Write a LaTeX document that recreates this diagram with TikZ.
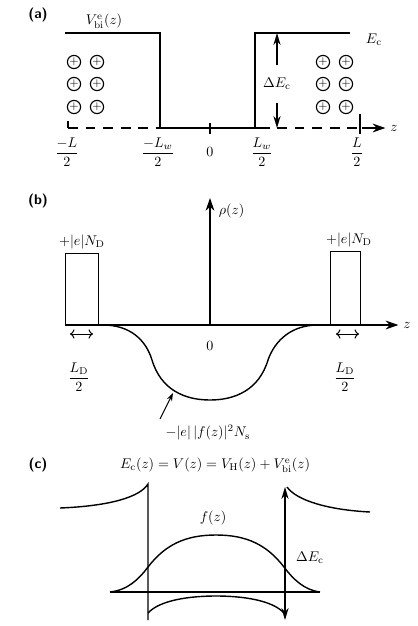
\documentclass[tikz,border=0pt]{standalone}
\usepackage{amsmath}
\usepackage{tikz}
\usetikzlibrary{arrows.meta, positioning}

\begin{document}
\begin{tikzpicture}[
        x=0.025cm, y=-0.025cm,
        band/.style={line width=1pt},
        thin band/.style={line width=0.7pt},
        dashband/.style={line width=1pt, dash pattern=on 7pt off 5.5pt},
        axisline/.style={-{Stealth[length=3.2mm, width=2.2mm]}, line width=1pt},
        arrowline/.style={-{Stealth[length=3mm, width=1.8mm]}, line width=1pt},
        ion/.style={circle, draw, line width=0.8pt, minimum size=0.33cm, inner sep=0pt, font=\footnotesize},
        panel/.style={font=\sffamily\bfseries}
    ]
    \useasboundingbox (0,0) rectangle (417,626);

    % (a)
    \node[panel] (pa) at (38,15) {(a)};
    \node (vbi) at (104,21) {$V^{\mathrm{e}}_{\mathrm{bi}}(z)$};
    \node (eca) at (374,40) {$E_{\mathrm{c}}$};
    \draw[band] (65,33) -- (160,33) -- (160,128) -- (270,128);
    \draw[band] (255,128) -- (255,33) -- (350,33);
    \draw[band] (68,121) -- (68,128);
    \draw[dashband] (68,128) -- (160,128);
    \draw[dashband] (277,128) -- (366,128);
    \node (za) at (394,128) {$z$};
    \coordinate (zas) at (362,128);
    \draw[axisline] (zas) -- (za);
    \draw[band] (210,123) -- (210,134);
    \draw[band] (360,114) -- (360,134);
    \node[inner ysep=9pt] (dea) at (277,84) {$\Delta E_{\mathrm{c}}$};
    \coordinate (deat) at (277,33);
    \coordinate (deab) at (277,128);
    \draw[arrowline] (dea) -- (deat);
    \draw[arrowline] (dea) -- (deab);
    \foreach \x/\s in {74/l1, 97/l2, 323/r1, 346/r2}
        \foreach \y/\t in {62/1, 84/2, 107/3}
            \node[ion] (ion\s\t) at (\x,\y) {$+$};
    \node (ma) at (67,152) {$\dfrac{-L}{2}$};
    \node (mwa) at (158,152) {$\dfrac{-L_w}{2}$};
    \node (oa) at (210,152) {$0$};
    \node (pwa) at (262,152) {$\dfrac{L_w}{2}$};
    \node (la) at (357,152) {$\dfrac{L}{2}$};

    % (b)
    \node[panel] (pb) at (38,201) {(b)};
    \coordinate (ob) at (210,325);
    \coordinate (zbs) at (65,325);
    \coordinate (rhot) at (210,198);
    \node (zb) at (407,325) {$z$};
    \node[anchor=west] (rho) at (214,211) {$\rho(z)$};
    \draw[axisline] (zbs) -- (zb);
    \draw[axisline] (ob) -- (rhot);
    \draw[thin band] (65,325) rectangle (98,253);
    \draw[thin band] (330,325) rectangle (360,251);
    \node (ndl) at (82,242) {$+|e|N_{\mathrm{D}}$};
    \node (ndr) at (349,240) {$+|e|N_{\mathrm{D}}$};
    \draw[{To}-{To}, thin band] (70,334) -- (93,334);
    \draw[{To}-{To}, thin band] (336,334) -- (359,334);
    \node (ldl) at (79,377) {$\dfrac{L_{\mathrm{D}}}{2}$};
    \node (ldr) at (345,377) {$\dfrac{L_{\mathrm{D}}}{2}$};
    \node (ob0) at (210,346) {$0$};
    \draw[band] (103,325) .. controls (130,325) and (146,340) .. (152,360)
        .. controls (161,390) and (185,400) .. (210,400)
        .. controls (235,400) and (259,390) .. (268,360)
        .. controls (275,340) and (292,325) .. (318,325);
    \node (rhos) at (208,433) {$-|e|\,|f(z)|^2N_{\mathrm{s}}$};
    \coordinate (rhoa) at (160,419);
    \coordinate (rhob) at (173,393);
    \draw[-{Stealth[length=2mm, width=1.4mm]}, thin band] (rhoa) -- (rhob);

    % (c)
    \node[panel] (pc) at (38,465) {(c)};
    \node (ecz) at (215,465) {$E_{\mathrm{c}}(z) = V(z) = V_{\mathrm{H}}(z) + V^{\mathrm{e}}_{\mathrm{bi}}(z)$};
    \draw[band] (60,508) .. controls (110,506) and (140,497) .. (148,484) -- (148,620);
    \draw[band] (148,613) .. controls (160,600) and (190,596) .. (216,596)
        .. controls (242,596) and (272,600) .. (284,613);
    \draw[band] (287,487) .. controls (297,501) and (330,510) .. (370,512);
    \coordinate (fzl) at (110,592);
    \coordinate (fzr) at (320,592);
    \draw[band] (fzl) -- (fzr);
    \draw[band] (fzl) .. controls (128,590) and (139,579) .. (148,567)
        .. controls (165,545) and (185,535) .. (216,535)
        .. controls (247,535) and (267,545) .. (284,567)
        .. controls (293,579) and (304,590) .. (fzr);
    \node (fz) at (213,518) {$f(z)$};
    \node (dec) at (310,558) {$\Delta E_{\mathrm{c}}$};
    \coordinate (dect) at (285,487);
    \coordinate (decb) at (285,620);
    \draw[{Stealth[length=3mm, width=1.8mm]}-{Stealth[length=3mm, width=1.8mm]}, band] (decb) -- (dect);
\end{tikzpicture}
\end{document}
